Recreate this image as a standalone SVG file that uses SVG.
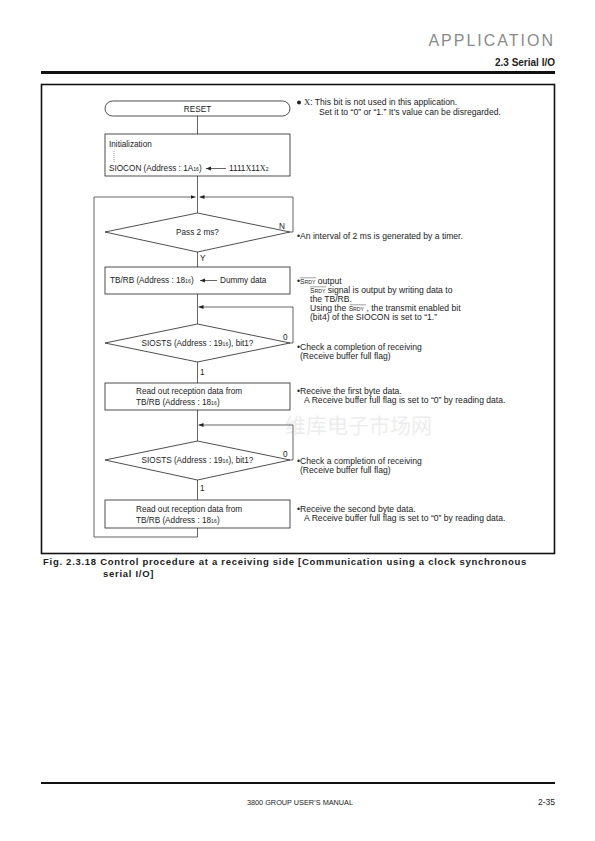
<svg xmlns="http://www.w3.org/2000/svg" width="595" height="841" viewBox="0 0 595 841">
<defs>
<marker id="ah" viewBox="0 0 10 10" refX="10" refY="5" markerWidth="5" markerHeight="5" orient="auto-start-reverse" markerUnits="userSpaceOnUse">
<path d="M0,1 L10,5 L0,9 z" fill="#222"/>
</marker>
<style>
text{font-family:"Liberation Sans",Arial,sans-serif;fill:#222}
.n{font-size:8.2px}
.s{font-size:8.6px}
.sub{font-size:5.2px}
.box{fill:none;stroke:#222;stroke-width:0.8}
.ln{fill:none;stroke:#222;stroke-width:0.7}
.x{font-family:"Liberation Serif","Times New Roman",serif}
.sr1{font-size:6.6px}
.sr2{font-size:5.2px}
.ov{stroke:#444;stroke-width:0.5}
.cap{font-size:9.5px;font-weight:bold;letter-spacing:0.72px}
</style>
</defs>
<rect width="595" height="841" fill="#fff"/>
<text x="555" y="46" text-anchor="end" style="font-size:16px;font-weight:300;fill:#8a8a8a;letter-spacing:2px" font-family="Lato, sans-serif">APPLICATION</text>
<text x="555" y="66" text-anchor="end" style="font-size:10px;font-weight:bold">2.3 Serial I/O</text>
<line x1="41" y1="72.5" x2="555" y2="72.5" stroke="#111" stroke-width="3"/>
<rect x="41.5" y="84.5" width="513" height="469" fill="none" stroke="#111" stroke-width="1.6"/>

<g id="connectors">
<line class="ln" x1="197.5" y1="116" x2="197.5" y2="134"/>
<line class="ln" x1="197.5" y1="176" x2="197.5" y2="213"/>
<path class="ln" d="M94,537 V197 H195.5" marker-end="url(#ah)"/>
<path class="ln" d="M290,232 H293 V197 H199.5" marker-end="url(#ah)"/>
<line class="ln" x1="197.5" y1="252" x2="197.5" y2="267"/>
<line class="ln" x1="197.5" y1="294" x2="197.5" y2="324"/>
<path class="ln" d="M290,343 H293 V307 H198.5" marker-end="url(#ah)"/>
<line class="ln" x1="197.5" y1="362" x2="197.5" y2="383"/>
<line class="ln" x1="197.5" y1="410" x2="197.5" y2="441"/>
<path class="ln" d="M290,460 H293 V425 H198.5" marker-end="url(#ah)"/>
<line class="ln" x1="197.5" y1="480" x2="197.5" y2="500"/>
<path class="ln" d="M197.5,528 V537 H94"/>
</g>

<g id="reset">
<rect class="box" x="105" y="101" width="185" height="15" rx="7.5"/>
<text class="n" x="197.5" y="111.5" text-anchor="middle">RESET</text>
</g>
<g id="note-x">
<circle cx="299" cy="102.5" r="2" fill="#222"/>
<text class="s" x="304" y="105"><tspan class="x">X</tspan>: This bit is not used in this application.</text>
<text class="s" x="319" y="115">Set it to “0” or “1.” It’s value can be disregarded.</text>
</g>
<g id="init">
<rect class="box" x="105" y="134" width="185" height="42"/>
<text class="n" x="109" y="147">Initialization</text>
<line x1="114" y1="151" x2="114" y2="162" stroke="#666" stroke-width="0.7" stroke-dasharray="1,1"/>
<text class="n" x="109" y="171">SIOCON (Address : 1A<tspan class="sub">16</tspan>)</text>
<line class="ln" x1="206" y1="168.5" x2="226" y2="168.5" marker-start="url(#ah)"/>
<text class="n" x="229" y="171">1111<tspan class="x">X</tspan>11<tspan class="x">X</tspan><tspan class="sub">2</tspan></text>
</g>
<g id="pass2ms">
<polygon class="box" points="197.5,213 290,232 197.5,252 105,232"/>
<text class="n" x="197.5" y="235" text-anchor="middle">Pass 2 ms?</text>
<text class="n" x="279" y="229">N</text>
<text class="n" x="200" y="261">Y</text>
</g>
<g id="note-timer">
<text class="s" x="297" y="239">•An interval of 2 ms is generated by a timer.</text>
</g>
<g id="tbrb-dummy">
<rect class="box" x="105" y="267" width="185" height="27"/>
<text class="n" x="110" y="283">TB/RB (Address : 18<tspan class="sub">16</tspan>)</text>
<line class="ln" x1="200" y1="280.5" x2="217" y2="280.5" marker-start="url(#ah)"/>
<text class="n" x="220" y="283">Dummy data</text>
</g>
<g id="note-srdy">
<text class="s" x="297" y="284">•<tspan class="sr1">S</tspan><tspan class="sr2">RDY</tspan> output</text>
<line class="ov" x1="300" y1="277.8" x2="316" y2="277.8"/>
<text class="s" x="310" y="293"><tspan class="sr1">S</tspan><tspan class="sr2">RDY</tspan> signal is output by writing data to</text>
<line class="ov" x1="310" y1="286.8" x2="326" y2="286.8"/>
<text class="s" x="310" y="302">the  TB/RB.</text>
<text class="s" x="310" y="311">Using the <tspan class="sr1">S</tspan><tspan class="sr2">RDY</tspan> , the transmit enabled bit</text>
<line class="ov" x1="350" y1="304.8" x2="366" y2="304.8"/>
<text class="s" x="310" y="320">(bit4) of the SIOCON is set to “1.”</text>
</g>
<g id="siosts1">
<polygon class="box" points="197.5,324 290,343 197.5,362 105,343"/>
<text class="n" x="197.5" y="346" text-anchor="middle">SIOSTS (Address : 19<tspan class="sub">16</tspan>), bit1?</text>
<text class="n" x="283" y="340">0</text>
<text class="n" x="200" y="375">1</text>
</g>
<g id="note-check1">
<text class="s" x="297" y="350">•Check a completion of receiving</text>
<text class="s" x="300" y="359">(Receive buffer full flag)</text>
</g>
<g id="read1">
<rect class="box" x="105" y="383" width="185" height="27"/>
<text class="n" x="136" y="394">Read out reception data from</text>
<text class="n" x="136" y="405">TB/RB (Address : 18<tspan class="sub">16</tspan>)</text>
</g>
<g id="note-read1">
<text class="s" x="297" y="394">•Receive the first byte data.</text>
<text class="s" x="304" y="403">A Receive buffer full flag is set to “0” by reading data.</text>
</g>
<g id="siosts2">
<polygon class="box" points="197.5,441 290,460 197.5,480 105,460"/>
<text class="n" x="197.5" y="463" text-anchor="middle">SIOSTS (Address : 19<tspan class="sub">16</tspan>), bit1?</text>
<text class="n" x="283" y="457">0</text>
<text class="n" x="200" y="491">1</text>
</g>
<g id="note-check2">
<text class="s" x="297" y="464">•Check a completion of receiving</text>
<text class="s" x="300" y="473">(Receive buffer full flag)</text>
</g>
<g id="read2">
<rect class="box" x="105" y="500" width="185" height="28"/>
<text class="n" x="136" y="512">Read out reception data from</text>
<text class="n" x="136" y="523">TB/RB (Address : 18<tspan class="sub">16</tspan>)</text>
</g>
<g id="note-read2">
<text class="s" x="297" y="512">•Receive the second byte data.</text>
<text class="s" x="304" y="521">A Receive buffer full flag is set to “0” by reading data.</text>
</g>

<text x="285" y="433" style="font-size:21px;fill:#000;opacity:0.07;font-family:'Noto Sans CJK SC',serif">维库电子市场网</text>

<text class="cap" x="43" y="565">Fig. 2.3.18 Control procedure at a receiving side [Communication using a clock synchronous</text>
<text class="cap" x="103" y="577">serial I/O]</text>

<line x1="41" y1="783" x2="555" y2="783" stroke="#111" stroke-width="2"/>
<text x="300" y="805" text-anchor="middle" style="font-size:7.3px">3800 GROUP USER’S MANUAL</text>
<text x="555" y="805" text-anchor="end" style="font-size:8.5px">2-35</text>
</svg>
